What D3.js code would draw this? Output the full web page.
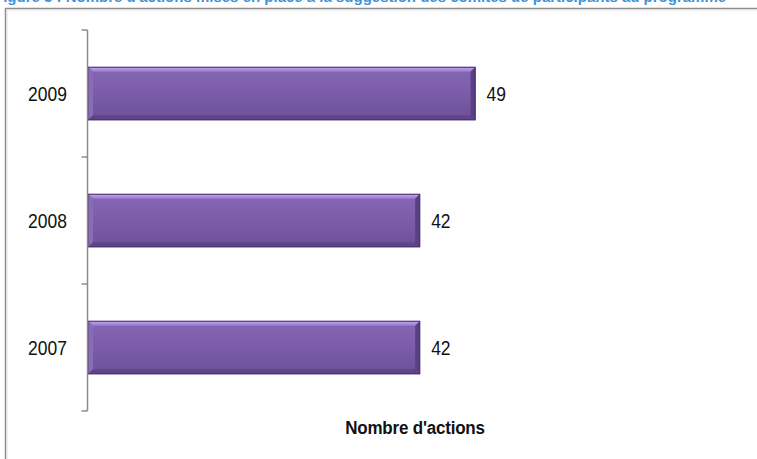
<!DOCTYPE html>
<html>
<head>
<meta charset="utf-8">
<script src="https://cdn.jsdelivr.net/npm/d3@7"></script>
<style>
  html, body { margin: 0; padding: 0; background: #fff; }
  svg { display: block; }
</style>
</head>
<body>
<svg id="chart" width="757" height="459"></svg>
<script>
// Number of actions per year
const years = ["2009", "2008", "2007"];
const actions = [49, 42, 42];
const titleText = "Figure 3 : Nombre d'actions mises en place à la suggestion des comités de participants au programme";
const axisTitle = "Nombre d'actions";

const svg = d3.select("#chart");
const W = 757, H = 459;
const FONT = "Liberation Sans, Arial, sans-serif";

// Blue heading, running off the top edge of the frame
svg.append("text")
  .attr("x", -6).attr("y", 2)
  .attr("font-family", FONT)
  .attr("font-size", 15).attr("font-weight", "bold")
  .attr("fill", "#1b7fd1").attr("opacity", 0.85)
  .text(titleText);

// Chart frame
svg.append("path")
  .attr("d", `M5.5,${H} V8.5 H${W}`)
  .attr("fill", "none").attr("stroke", "#8c8c8c").attr("stroke-width", 1.5);
svg.append("path")
  .attr("d", `M7,${H} V10 H${W}`)
  .attr("fill", "none").attr("stroke", "#e2e2e2").attr("stroke-width", 1);

const x0 = 87.5;
const x = d3.scaleLinear().domain([0, 60]).range([x0, x0 + 60 * 7.92]);
const y = d3.scaleBand().domain(years).range([30, 411]).paddingInner(0.58).paddingOuter(0.29);

// Gradients for the bevelled bars
const defs = svg.append("defs");
const g = defs.append("linearGradient").attr("id", "barFill").attr("x1", 0).attr("y1", 0).attr("x2", 0).attr("y2", 1);
[[0, "#8667b5"], [0.5, "#7a5ca9"], [1, "#6d5097"]].forEach(([o, c]) =>
  g.append("stop").attr("offset", o).attr("stop-color", c));
const gt = defs.append("linearGradient").attr("id", "barTop").attr("x1", 0).attr("y1", 0).attr("x2", 0).attr("y2", 1);
[[0, "#c7a9ee"], [1, "#977acb"]].forEach(([o, c]) =>
  gt.append("stop").attr("offset", o).attr("stop-color", c));

const bars = svg.append("g").selectAll("g.bar")
  .data(years.map((yr, i) => ({ yr, v: actions[i] })))
  .join("g").attr("class", "bar");

const bev = 5;
bars.each(function(d) {
  const sel = d3.select(this);
  const xa = x(0) + 0.5, xb = x(d.v), ya = y(d.yr), yb = ya + y.bandwidth();
  // body
  sel.append("rect").attr("x", xa).attr("y", ya).attr("width", xb - xa).attr("height", yb - ya)
    .attr("fill", "url(#barFill)");
  // top bevel
  sel.append("path")
    .attr("d", `M${xa},${ya} H${xb} L${xb - bev},${ya + bev} H${xa + bev} Z`)
    .attr("fill", "url(#barTop)");
  // left bevel
  sel.append("path")
    .attr("d", `M${xa},${ya} L${xa + bev},${ya + bev} V${yb - bev} L${xa},${yb} Z`)
    .attr("fill", "#8a6bb8");
  // bottom bevel
  sel.append("path")
    .attr("d", `M${xa},${yb} L${xa + bev},${yb - bev} H${xb - bev} L${xb},${yb} Z`)
    .attr("fill", "#5f4588");
  // right bevel
  sel.append("path")
    .attr("d", `M${xb},${ya} L${xb - bev},${ya + bev} V${yb - bev} L${xb},${yb} Z`)
    .attr("fill", "#5a4184");
  // outline
  sel.append("rect").attr("x", xa).attr("y", ya + 0.5).attr("width", xb - xa - 0.5).attr("height", yb - ya - 1)
    .attr("fill", "none").attr("stroke", "#4b3470").attr("stroke-width", 1);
  // value label (slightly tall glyphs)
  const cy = (ya + yb) / 2;
  sel.append("text")
    .attr("transform", `translate(${xb + 11},${cy}) scale(1,1.2)`)
    .attr("dy", "0.35em")
    .attr("font-family", FONT)
    .attr("font-size", 17.5).attr("fill", "#111")
    .text(d.v);
});

// Category axis with ticks between bands
const ax = svg.append("g");
ax.append("line").attr("x1", x0).attr("x2", x0).attr("y1", 30).attr("y2", 411)
  .attr("stroke", "#8c8c8c").attr("stroke-width", 1.5);
d3.range(years.length + 1).forEach(i => {
  const yy = 30 + i * (381 / years.length);
  ax.append("line").attr("x1", x0 - 6).attr("x2", x0).attr("y1", yy).attr("y2", yy)
    .attr("stroke", "#8c8c8c").attr("stroke-width", 1.5);
});
ax.selectAll("text.cat").data(years).join("text").attr("class", "cat")
  .attr("transform", d => `translate(67,${y(d) + y.bandwidth() / 2}) scale(1,1.2)`)
  .attr("dy", "0.35em")
  .attr("text-anchor", "end")
  .attr("font-family", FONT)
  .attr("font-size", 17.5).attr("fill", "#111")
  .text(d => d);

// Value axis title
svg.append("text")
  .attr("transform", "translate(415,427) scale(1,1.12)")
  .attr("dy", "0.35em")
  .attr("text-anchor", "middle")
  .attr("font-family", FONT)
  .attr("font-size", 17).attr("font-weight", "bold")
  .attr("letter-spacing", -0.2).attr("fill", "#111")
  .text(axisTitle);
</script>
</body>
</html>
